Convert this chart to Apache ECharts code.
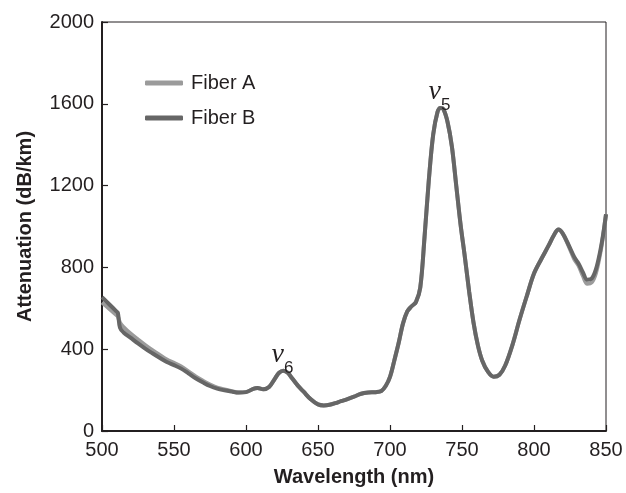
<!DOCTYPE html>
<html>
<head>
<meta charset="utf-8">
<script src="https://cdn.jsdelivr.net/npm/echarts@6/dist/echarts.min.js"></script>
<style>
  html, body { margin: 0; padding: 0; background: #fff; }
  #chart { width: 626px; height: 493px; }
</style>
</head>
<body>
<div id="chart"></div>
<script>
// Wavelength sampling (nm)
const wavelength = [500, 505, 510, 511, 512.5, 515, 520, 525, 530, 535, 540, 545, 550, 555, 560, 565, 570, 575, 580, 585, 590, 595, 600, 605, 608, 612, 616, 620, 623, 626, 629, 632, 636, 640, 645, 650, 654, 658, 662, 666, 670, 675, 680, 685, 690, 694, 697, 700, 703, 706, 709, 712, 715, 718, 721, 724, 727, 730, 733, 735, 737, 740, 743, 746, 749, 752, 755, 758, 761, 764, 768, 772, 776, 780, 785, 790, 795, 800, 805, 810, 814, 817, 820, 824, 828, 831, 834, 837, 840, 843, 846, 848, 850];

// Attenuation (dB/km)
const fiberA = [628, 598, 567, 560, 530, 508, 475, 447, 420, 395, 372, 350, 333, 315, 292, 267, 246, 227, 212, 203, 195, 188, 190, 206, 210, 204, 215, 255, 285, 295, 285, 258, 222, 192, 155, 130, 125, 128, 136, 146, 155, 168, 182, 188, 190, 196, 220, 265, 345, 430, 525, 585, 610, 630, 700, 950, 1230, 1450, 1560, 1580, 1575, 1510, 1390, 1200, 1010, 850, 680, 530, 420, 345, 290, 265, 275, 320, 420, 545, 660, 770, 840, 905, 960, 985, 965, 905, 840, 808, 758, 720, 726, 772, 868, 955, 1060];
const fiberB = [655, 620, 585, 578, 505, 482, 455, 428, 403, 380, 358, 337, 322, 305, 282, 258, 238, 220, 207, 199, 193, 188, 190, 206, 210, 204, 215, 255, 285, 295, 285, 258, 222, 192, 155, 130, 125, 128, 136, 146, 155, 168, 182, 188, 190, 196, 220, 265, 345, 430, 525, 585, 610, 630, 700, 950, 1230, 1450, 1560, 1580, 1575, 1510, 1390, 1200, 1010, 850, 680, 530, 420, 345, 290, 265, 275, 320, 420, 545, 660, 770, 840, 905, 960, 985, 965, 910, 850, 818, 775, 740, 745, 790, 880, 960, 1060];

// Band labels: [wavelength, attenuation, subscript]
const bands = [
  [626, 295, '6'],
  [735, 1580, '5']
];

const seriesNames = ['Fiber A', 'Fiber B'];
const xTicks = [500, 550, 600, 650, 700, 750, 800, 850];
const yTicks = [0, 400, 800, 1200, 1600, 2000];

const toPairs = vals => wavelength.map((w, i) => [w, vals[i]]);

const chart = echarts.init(document.getElementById('chart'), null, { renderer: 'canvas' });

const textColor = '#231f20';
const font = 'Liberation Sans, Arial, sans-serif';

chart.setOption({
  animation: false,
  backgroundColor: '#fff',
  grid: {
    left: 102, right: 20, top: 22, bottom: 62,
    show: true, borderColor: '#231f20', borderWidth: 1, backgroundColor: 'transparent'
  },
  legend: {
    orient: 'vertical',
    left: 140, top: 68,
    icon: 'roundRect',
    itemWidth: 38, itemHeight: 5, itemGap: 15,
    textStyle: { fontFamily: font, fontSize: 20, color: textColor, padding: [0, 0, 0, 3] },
    data: seriesNames
  },
  xAxis: {
    type: 'value',
    min: xTicks[0], max: xTicks[xTicks.length - 1], interval: 50,
    name: 'Wavelength (nm)',
    nameLocation: 'middle', nameGap: 36,
    nameTextStyle: { fontFamily: font, fontSize: 20, fontWeight: 'bold', color: textColor },
    axisLine: { lineStyle: { color: '#231f20', width: 2 } },
    axisTick: { inside: true, length: 6, lineStyle: { color: '#231f20', width: 1.2 } },
    axisLabel: { fontFamily: font, fontSize: 20, color: textColor, margin: 9 },
    splitLine: { show: false }
  },
  yAxis: {
    type: 'value',
    min: yTicks[0], max: yTicks[yTicks.length - 1], interval: 400,
    name: 'Attenuation (dB/km)',
    nameLocation: 'middle', nameGap: 67,
    nameTextStyle: { fontFamily: font, fontSize: 20, fontWeight: 'bold', color: textColor },
    axisLine: { show: true, lineStyle: { color: '#231f20', width: 2 } },
    axisTick: { show: true, inside: true, length: 6, lineStyle: { color: '#231f20', width: 1.2 } },
    axisLabel: { fontFamily: font, fontSize: 20, color: textColor, margin: 8, formatter: v => String(v) },
    splitLine: { show: false }
  },
  series: [
    {
      name: seriesNames[0],
      type: 'line',
      data: toPairs(fiberA),
      symbol: 'none',
      smooth: 0.35,
      color: '#9b9b9b',
      lineStyle: { color: '#9b9b9b', width: 4 },
      z: 2
    },
    {
      name: seriesNames[1],
      type: 'line',
      data: toPairs(fiberB),
      symbol: 'none',
      smooth: 0.35,
      color: '#666666',
      lineStyle: { color: '#666666', width: 4 },
      z: 3,
      markPoint: {
        symbol: 'circle',
        symbolSize: 0,
        silent: true,
        data: bands.map(b => ({
          coord: [b[0], b[1]],
          label: {
            show: true,
            position: 'top',
            distance: 4,
            offset: [-1, 2],
            formatter: '{v|ν}{s|' + b[2] + '}',
            rich: {
              v: { fontFamily: 'Liberation Serif, serif', fontStyle: 'italic', fontSize: 28, color: textColor, verticalAlign: 'bottom', lineHeight: 28 },
              s: { fontFamily: font, fontSize: 17, color: textColor, verticalAlign: 'bottom', padding: [0, 0, -8, 0], lineHeight: 17 }
            }
          }
        }))
      }
    }
  ]
});
</script>
</body>
</html>
